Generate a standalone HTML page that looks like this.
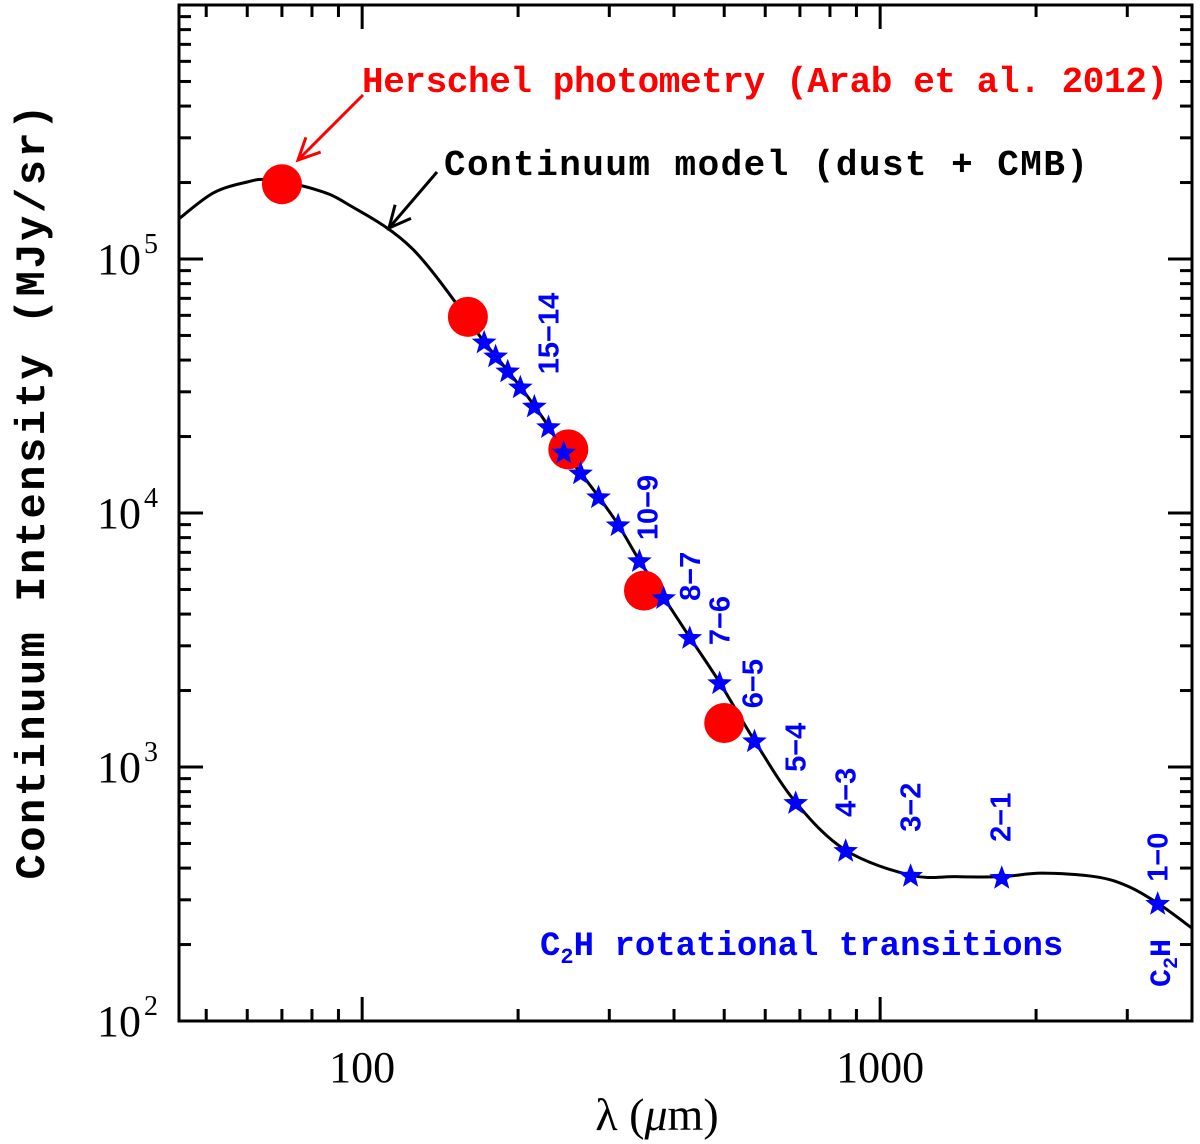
<!DOCTYPE html>
<html><head><meta charset="utf-8"><style>
html,body{margin:0;padding:0;background:#fff;}
svg{display:block;}
</style></head><body>
<svg id="chart" width="1200" height="1144" viewBox="0 0 1200 1144" xmlns="http://www.w3.org/2000/svg">
<g id="marks"></g>
<g id="axes"></g>
<g id="labels"></g>
</svg>
<script>
const xDomain = [44.3, 4000];
const yDomain = [100, 1e6];
const xMajorTicks = [100, 1000];
const xTickLabels = ["100", "1000"];
const yMajorExps = [2, 3, 4, 5];
const curveLambda = [44.3, 51.6, 60, 66, 80.4, 93.5, 125.4, 172, 181, 191, 202, 215, 229, 245, 264, 286, 312, 343, 382, 429, 490, 572, 687, 858, 1145, 1400, 1717, 2050, 2600, 3000, 3434, 4000];
const curveI = [1.44e5, 1.82e5, 2.01e5, 2.05e5, 1.89e5, 1.65e5, 1.09e5, 4.72e4, 4.16e4, 3.63e4, 3.14e4, 2.64e4, 2.19e4, 1.74e4, 1.44e4, 1.16e4, 9.0e3, 6.5e3, 4.65e3, 3.24e3, 2.15e3, 1.27e3, 726, 470, 375, 370, 370, 382, 370, 340, 291, 232];
const herschelLambda = [70, 160, 250, 350, 500];
const herschelI = [1.97e5, 5.92e4, 1.78e4, 4.95e3, 1.49e3];
const c2hLambda = [172, 181, 191, 202, 215, 229, 245, 264, 286, 312, 343, 382, 429, 490, 572, 687, 858, 1145, 1717, 3434];
const c2hI = [4.72e4, 4.16e4, 3.63e4, 3.14e4, 2.64e4, 2.19e4, 1.74e4, 1.44e4, 1.16e4, 9.0e3, 6.5e3, 4.65e3, 3.24e3, 2.15e3, 1.27e3, 726, 470, 375, 368, 291];
const c2hLabels = ["15\u221214", "10\u22129", "8\u22127", "7\u22126", "6\u22125", "5\u22124", "4\u22123", "3\u22122", "2\u22121", "1\u22120"];
const c2hLabelLambda = [229, 343, 429, 490, 572, 687, 858, 1145, 1717, 3434];
// label layout: [dx from star, dy of label centre above star] (pixels)
const labelLayout = [[0, 93], [8, 53], [0, 61], [0, 62], [-2, 57], [0, 55], [0, 58], [0, 68], [-1, 60], [0, 46]];

const L = 179, R = 1192, T = 5, B = 1021;
const NS = "http://www.w3.org/2000/svg";
function xs(v){ return L + (Math.log10(v) - Math.log10(xDomain[0])) / (Math.log10(xDomain[1]) - Math.log10(xDomain[0])) * (R - L); }
function ys(v){ return B - (Math.log10(v) - Math.log10(yDomain[0])) / (Math.log10(yDomain[1]) - Math.log10(yDomain[0])) * (B - T); }
function mk(tag, attrs, parent){ const e = document.createElementNS(NS, tag); for (const k in attrs) e.setAttribute(k, attrs[k]); parent.appendChild(e); return e; }
const marks = document.getElementById('marks'), axes = document.getElementById('axes'), labels = document.getElementById('labels');

const P = curveLambda.map((l, i) => [xs(l), ys(curveI[i])]);
let d = `M${P[0][0]},${P[0][1]}`;
for (let i = 0; i < P.length - 1; i++) {
  const p0 = P[Math.max(0, i - 1)], p1 = P[i], p2 = P[i + 1], p3 = P[Math.min(P.length - 1, i + 2)];
  const c1 = [p1[0] + (p2[0] - p0[0]) / 6, p1[1] + (p2[1] - p0[1]) / 6];
  const c2 = [p2[0] - (p3[0] - p1[0]) / 6, p2[1] - (p3[1] - p1[1]) / 6];
  d += ` C${c1[0]},${c1[1]} ${c2[0]},${c2[1]} ${p2[0]},${p2[1]}`;
}
const curve = mk('path', {d: d, fill: 'none', stroke: '#000', 'stroke-width': 3}, marks);



herschelLambda.forEach((l, i) => {
  const c = mk('circle', {cx: xs(l), cy: ys(herschelI[i]), r: 20, fill: '#ff0000'}, marks);
  
  
});

function starPath(cx, cy, r){
  let s = '';
  for (let k = 0; k < 10; k++) {
    const a = -Math.PI / 2 + k * Math.PI / 5, rr = k % 2 ? r * 0.42 : r;
    s += (k ? 'L' : 'M') + (cx + rr * Math.cos(a)).toFixed(2) + ',' + (cy + rr * Math.sin(a)).toFixed(2);
  }
  return s + 'Z';
}
c2hLambda.forEach((l, i) => {
  const s = mk('path', {d: starPath(xs(l), ys(c2hI[i]) + 1, 13), fill: '#0000ff'}, marks);
  
  
});

c2hLabelLambda.forEach((l, i) => {
  const idx = c2hLambda.indexOf(l);
  const cx = xs(l) + labelLayout[i][0];
  const cy = ys(c2hI[idx]) - labelLayout[i][1];
  const t = mk('text', {x: 0, y: 0, transform: `translate(${cx + 10},${cy}) rotate(-90)`, 'text-anchor': 'middle', fill: '#0000ff', 'font-family': '"Liberation Sans", sans-serif', 'font-weight': 'bold', 'font-size': 29}, labels);
  t.textContent = c2hLabels[i];
  
  
});

const fr = mk('rect', {x: L, y: T, width: R - L, height: B - T, fill: 'none', stroke: '#000', 'stroke-width': 3}, axes);



for (let e = 1; e <= 3; e++) for (let m = 1; m <= 9; m++) {
  const v = m * Math.pow(10, e);
  if (v < xDomain[0] || v > xDomain[1]) continue;
  const x = xs(v), len = m === 1 ? 24 : 12;
  mk('line', {x1: x, y1: B, x2: x, y2: B - len, stroke: '#000', 'stroke-width': 3}, axes);
  mk('line', {x1: x, y1: T, x2: x, y2: T + len, stroke: '#000', 'stroke-width': 3}, axes);
}
for (let e = 2; e <= 5; e++) for (let m = 1; m <= 9; m++) {
  const v = m * Math.pow(10, e);
  const y = ys(v), len = m === 1 ? 24 : 12;
  mk('line', {x1: L, y1: y, x2: L + len, y2: y, stroke: '#000', 'stroke-width': 3}, axes);
  mk('line', {x1: R, y1: y, x2: R - len, y2: y, stroke: '#000', 'stroke-width': 3}, axes);
}
xMajorTicks.forEach((v, i) => {
  const t = mk('text', {x: xs(v), y: 1082, 'text-anchor': 'middle', 'font-family': '"Liberation Serif", serif', 'font-size': 44}, labels);
  t.textContent = xTickLabels[i];
  
  
});
yMajorExps.forEach(e => {
  const y = ys(Math.pow(10, e));
  const t = mk('text', {x: 141, y: y + 15, 'text-anchor': 'end', 'font-family': '"Liberation Serif", serif', 'font-size': 44}, labels);
  t.textContent = '10';
  
  
  const s = mk('text', {x: 144, y: y - 6, 'font-family': '"Liberation Serif", serif', 'font-size': 28}, labels);
  s.textContent = String(e);
});

function txt(x, y, str, attrs, name){
  const t = mk('text', Object.assign({x: x, y: y}, attrs), labels);
  t.textContent = str;
  
  
  return t;
}
const mono = {'font-family': '"Liberation Mono", monospace', 'font-weight': 'bold'};
txt(1168, 92, 'Herschel photometry (Arab et al. 2012)', Object.assign({fill: '#ff0000', 'font-size': 36, 'text-anchor': 'end', textLength: 806}, mono), 'herschel-annotation');
txt(1088, 175, 'Continuum model (dust + CMB)', Object.assign({fill: '#000', 'font-size': 36, 'text-anchor': 'end', textLength: 644}, mono), 'continuum-annotation');
const c2t = txt(540, 955, '', Object.assign({fill: '#0000ff', 'font-size': 34}, mono), 'c2h-annotation');
c2t.innerHTML = 'C<tspan dy="8" font-size="22">2</tspan><tspan dy="-8">H rotational transitions</tspan>';
const c2v = txt(0, 0, '', Object.assign({fill: '#0000ff', 'font-size': 30, transform: 'translate(1170,987) rotate(-90)'}, mono), 'c2h-vertical-label');
c2v.innerHTML = 'C<tspan dy="7" font-size="20">2</tspan><tspan dy="-7">H</tspan>';
txt(0, 0, 'Continuum Intensity  (MJy/sr)', Object.assign({fill: '#000', 'font-size': 42, 'text-anchor': 'middle', transform: 'translate(44,492) rotate(-90)', textLength: 775}, mono), 'y-axis-title');
const xt = txt(657, 1130, '', {'font-family': '"Liberation Serif", serif', 'font-size': 46, 'text-anchor': 'middle'}, 'x-axis-title');
xt.innerHTML = 'λ (<tspan font-style="italic">μ</tspan>m)';

function arrow(x1, y1, x2, y2, col, name){
  const g = mk('g', {}, labels);
  
  
  mk('line', {x1: x1, y1: y1, x2: x2, y2: y2, stroke: col, 'stroke-width': 3}, g);
  const a = Math.atan2(y2 - y1, x2 - x1), h = 24, w = 0.45;
  const p1 = [x2 - h * Math.cos(a - w), y2 - h * Math.sin(a - w)];
  const p2 = [x2 - h * Math.cos(a + w), y2 - h * Math.sin(a + w)];
  mk('path', {d: `M${p1[0]},${p1[1]} L${x2},${y2} L${p2[0]},${p2[1]}`, fill: 'none', stroke: col, 'stroke-width': 3}, g);
}
arrow(363, 95, 298, 160, '#ff0000', 'herschel-arrow');
arrow(437, 172, 389, 228, '#000', 'continuum-arrow');
</script>
</body></html>
